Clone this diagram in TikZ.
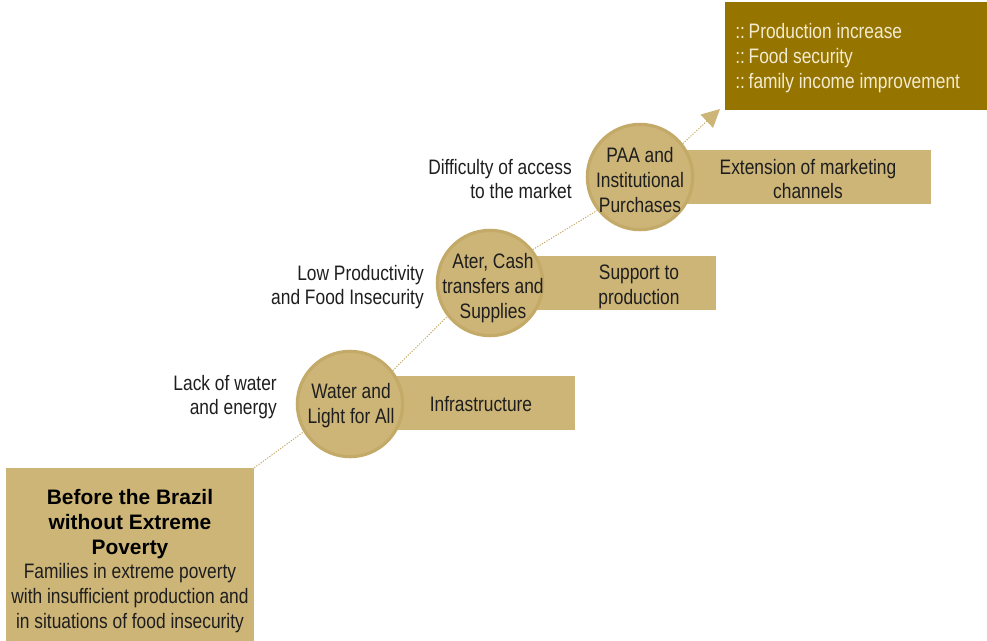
\documentclass[tikz,border=0pt]{standalone}
\usepackage{fontspec}
\setmainfont{Liberation Sans}[FakeStretch=0.83]
\newfontfamily\headfont{Liberation Sans}
\usetikzlibrary{arrows.meta}
\definecolor{tan}{HTML}{CDB577}
\definecolor{rim}{HTML}{C4AA68}
\definecolor{gold}{HTML}{967400}
\definecolor{ink}{HTML}{1E1E1E}
\definecolor{pale}{HTML}{F3EBCF}
\newcommand{\headline}[1]{{\headfont\bfseries\color{black}#1}}
\tikzset{
  txt/.style={font=\fontsize{15.75}{18.55}\selectfont,text=ink,inner sep=0pt,align=center},
  lab/.style={txt,align=right,anchor=east},
  band/.style={fill=tan,minimum height=40.5bp,anchor=west,inner sep=0pt},
  disc/.style={circle,fill=tan,draw=rim,line width=2.4bp,minimum size=79bp,inner sep=0pt},
  link/.style={draw=rim,line width=0.75bp,dash pattern=on 0.9bp off 1.1bp}
}
\begin{document}
\begin{tikzpicture}[x=0.75bp,y=-0.75bp]
\useasboundingbox (0,0) rectangle (987,641);
\node[fill=gold,minimum width=196.5bp,minimum height=81bp,inner sep=0pt] (result) at (856,56) {};
\node[txt,text=pale,align=left,anchor=west] (resulttext) at (735,58) {::\kern-2bp{} Production increase\\::\kern-2bp{} Food security\\::\kern-2bp{} family income improvement};
\node[fill=tan,minimum width=186bp,minimum height=129.75bp,inner sep=0pt] (before) at (130,554.5) {};
\node[txt] (beforetext) at (130,561) {\headline{Before the Brazil}\\\headline{without Extreme}\\\headline{Poverty}\\Families in extreme poverty\\with insufficient production and\\in situations of food insecurity};
\node[band,minimum width=146bp] (b1) at (380,403) {};
\node[band,minimum width=147bp] (b2) at (520,283) {};
\node[band,minimum width=188bp] (b3) at (680,177) {};
\node[txt] (b1t) at (481,404) {Infrastructure};
\node[txt] (b2t) at (639,287) {Support to\\production};
\node[txt] (b3t) at (808,179) {Extension of marketing\\channels};
\node[disc] (c1) at (350,404) {};
\node[disc] (c2) at (490,283) {};
\node[disc] (c3) at (640,177) {};
\node[txt] at (351,405.5) {Water and\\Light for All};
\node[txt] at (493,288) {Ater, Cash\\transfers and\\Supplies};
\node[txt] at (640,180) {PAA and\\Institutional\\Purchases};
\node[lab] (l1) at (277,397) {Lack of water\\and energy};
\node[lab] (l2) at (424,287) {Low Productivity\\and Food Insecurity};
\node[lab] (l3) at (572,179) {Difficulty of access\\to the market};
\coordinate (tip) at (720,109);
\path[link] (before.north east) -- (c1.211);
\path[link] (c1.38) -- (c2.218);
\path[link] (c2.38) -- (c3.218);
\draw[link,-{Triangle[length=13.5bp,width=13.5bp,fill=tan,color=tan]}] (c3.38) -- (tip);
\end{tikzpicture}
\end{document}
